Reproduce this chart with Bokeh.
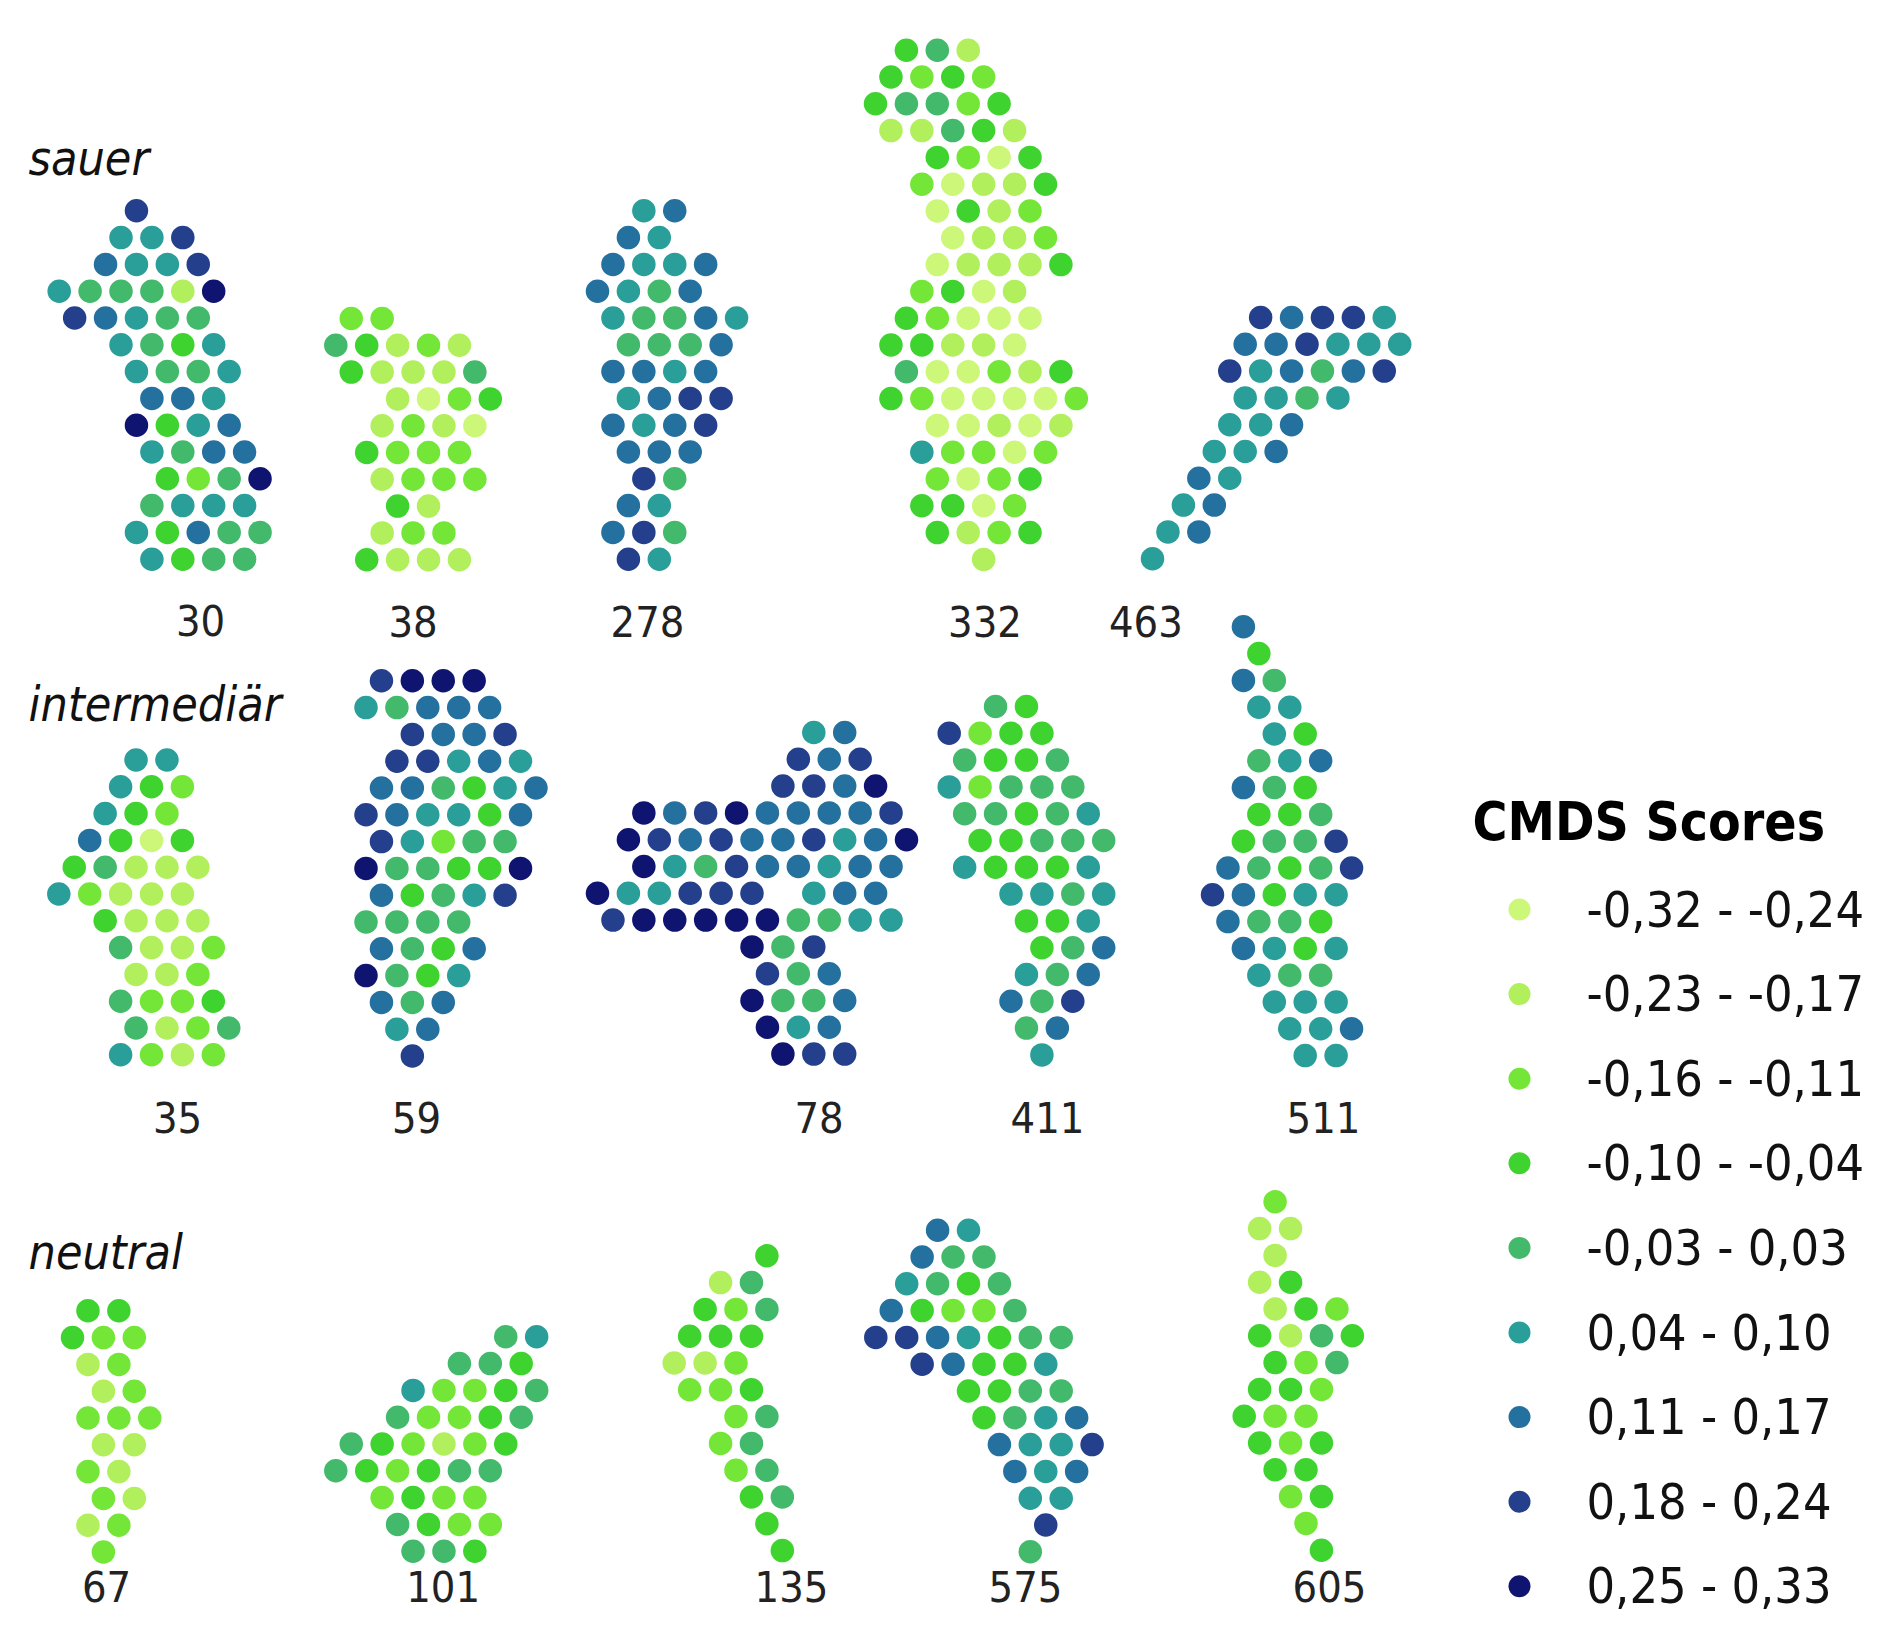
from bokeh.plotting import figure
from bokeh.models import Range1d, ColumnDataSource
from bokeh.embed import file_html
from bokeh.resources import INLINE
from bokeh.core.properties import value

# ---------------- data ----------------
# CMDS score classes (1 = lowest, 9 = highest)
CLASS_LABELS = ["-0,32 - -0,24", "-0,23 - -0,17", "-0,16 - -0,11", "-0,10 - -0,04",
                "-0,03 - 0,03", "0,04 - 0,10", "0,11 - 0,17", "0,18 - 0,24", "0,25 - 0,33"]
GROUPS = ["sauer", "intermediär", "neutral"]
SHAPE_IDS = ["30", "38", "278", "332", "463",
             "35", "59", "78", "411", "511",
             "67", "101", "135", "575", "605"]

# each string = one row of the hexagonal dot grid, each character = half a column step,
# digit = score class of that dot
S30 = ["     8", "    6 6 8", "   7 6 6 8", "6 5 5 5 2 9", " 8 7 6 5 5", "    6 5 4 6",
       "     6 5 5 6", "      7 7 6", "     9 4 6 7", "      6 5 7 7", "       4 3 5 9",
       "      5 6 6 6", "     6 4 7 5 5", "      6 4 5 5"]
S38 = [" 3 3", "5 4 2 3 2", " 4 2 2 2 5", "    2 1 3 4", "   2 3 2 1", "  4 3 3 3",
       "   2 3 3 3", "    4 2", "   2 3 3", "  4 2 2 2"]
S278 = ["   6 7", "  7 6", " 7 6 6 7", "7 6 5 7", " 6 5 5 7 6", "  5 5 5 7", " 7 7 6 7",
        "  6 7 8 8", " 7 6 7 8", "  7 7 7", "   8 5", "  7 6", " 7 8 5", "  8 6"]
S332 = ["  4 5 2", " 4 3 4 3", "4 5 5 3 4", " 2 2 5 4 2", "    4 3 1 4", "   3 1 2 2 4",
        "    1 4 2 3", "     1 2 2 3", "    1 2 2 2 4", "   3 4 1 2", "  4 3 1 1 1",
        " 4 4 2 2 1", "  5 1 1 3 2 4", " 4 3 1 1 1 1 3", "    1 1 2 1 2", "   6 3 3 1 3",
        "    3 1 3 4", "   4 4 1 3", "    4 2 3 4", "       2"]
S463 = ["       8 7 8 8 6", "      7 7 8 6 6 6", "     8 6 7 5 7 8", "      6 6 5 6",
        "     6 6 7", "    6 6 7", "   7 6", "  6 7", " 6 7", "6"]
S35 = ["     6 6", "    6 4 3", "   6 4 3", "  7 4 1 4", " 4 5 2 2 2", "6 3 2 2 2",
       "   4 2 2 2", "    5 2 2 3", "     2 2 3", "    5 3 3 4", "     5 2 3 5", "    6 3 2 3"]
S59 = [" 8 9 9 9", "6 5 7 7 7", "   8 7 7 8", "  8 8 6 7 6", " 7 7 5 4 6 7", "8 7 6 6 4 7",
       " 8 6 3 5 5", "9 5 5 4 4 9", " 7 4 5 6 8", "5 5 5 5", " 7 5 4 7", "9 5 4 6",
       " 7 5 7", "  6 7", "   8"]
S78 = ["              6 7", "             8 7 8", "            8 8 7 9",
       "   9 7 8 9 7 7 7 7 8", "  9 8 7 8 7 7 8 6 7 9", "   9 6 5 8 7 7 6 7 7",
       "9 6 6 8 8 8   6 7 7", " 8 9 9 9 9 9 5 5 6 6", "          9 5 8",
       "           8 5 7", "          9 5 5 7", "           9 6 7", "            9 8 8"]
S411 = ["   5 4", "8 3 4 4", " 5 4 4 5", "6 3 5 5 5", " 5 5 4 5 6", "  4 4 5 5 5",
        " 6 4 4 4 6", "    6 6 5 6", "     4 4 6", "      4 5 7", "     6 5 7",
        "    7 5 8", "     5 7", "      6"]
S511 = ["  7", "   4", "  7 5", "   6 6", "    6 4", "   5 6 7", "  7 5 4", "   4 4 5",
        "  4 5 5 8", " 7 5 4 5 8", "8 7 4 6 6", " 7 5 5 4", "  7 6 4 6", "   6 5 5",
        "    6 6 6", "     6 6 7", "      6 6"]
S67 = [" 4 4", "4 3 3", " 2 3", "  2 3", " 3 3 3", "  2 2", " 3 2", "  3 2", " 2 3", "  3"]
S101 = ["           5 6", "        5 5 4", "     6 3 3 4 5", "    5 3 3 4 5",
        " 5 4 3 2 3 4", "5 4 3 4 5 5", "   3 4 3 3", "    5 4 3 3", "     5 5 4"]
S135 = ["      4", "   2 5", "  4 3 5", " 4 4 4", "2 2 3", " 3 3 4", "    3 5", "   3 5",
        "    3 5", "     4 5", "      4", "       4"]
S575 = ["    7 6", "   7 5 5", "  6 5 4 5", " 7 4 3 3 5", "8 8 7 6 4 5 5", "   8 7 4 4 6",
        "      4 4 5 5", "       4 5 6 7", "        7 6 6 8", "         7 6 7",
        "          6 6", "           8", "          5"]
S605 = ["  3", " 2 2", "  2", " 2 4", "  2 4 3", " 4 2 5 4", "  4 3 5", " 4 4 3", "4 3 3",
        " 4 3 4", "  4 4", "   3 4", "    3", "     4"]

SHAPES = dict(zip(SHAPE_IDS, [S30, S38, S278, S332, S463, S35, S59, S78, S411, S511,
                              S67, S101, S135, S575, S605]))

# ---------------- layout / style ----------------
PALETTE = ["#cdf779", "#b1ef5c", "#74e638", "#3ed32f", "#42b96b",
           "#2a9e99", "#24709e", "#243f8b", "#0f1471"]
HX = 15.45     # half column step (px)
DY = 26.8      # row step (px)
DOT = 23.5

ANCHOR = {"30": (66.7, 218.3), "38": (343.3, 326.0), "278": (605.0, 218.3),
          "332": (883.0, 57.7), "463": (1160.0, 325.0),
          "35": (66.3, 767.5), "59": (373.5, 688.3), "78": (605.0, 740.0),
          "411": (956.7, 714.0), "511": (1220.0, 634.3),
          "67": (80.0, 1318.3), "101": (343.3, 1344.3), "135": (681.7, 1263.3),
          "575": (883.3, 1237.7), "605": (1251.7, 1209.3)}
LABEL_POS = {"30": (208, 628), "38": (420.5, 629), "278": (655, 629), "332": (992.5, 629),
             "463": (1153.4, 629), "35": (185, 1124.6), "59": (424, 1124.6),
             "78": (826.6, 1124.6), "411": (1055, 1124.6), "511": (1331, 1124.6),
             "67": (114, 1594), "101": (450.6, 1594), "135": (799, 1594),
             "575": (1033, 1594), "605": (1337, 1594)}
GROUP_POS = [(36, 165), (36, 711), (36, 1259)]
FONT = ("'Liberation Sans Narrow', 'DejaVu Sans Condensed', 'Roboto Condensed', "
        "'Arial Narrow', 'Liberation Sans', sans-serif")

W, H = 1868, 1620
p = figure(width=W, height=H, x_range=Range1d(8, 8 + W), y_range=Range1d(8 + H, 8),
           output_backend="svg", toolbar_location=None,
           x_axis_location=None, y_axis_location=None, min_border=0,
           outline_line_color=None, background_fill_color="white")
p.grid.visible = False

xs, ys, cs = [], [], []
for sid in SHAPE_IDS:
    x0, y0 = ANCHOR[sid]
    for r, row in enumerate(SHAPES[sid]):
        for j, ch in enumerate(row):
            if ch != " ":
                xs.append(x0 + j * HX)
                ys.append(y0 + r * DY)
                cs.append(PALETTE[int(ch) - 1])
p.scatter(x="x", y="y", color="c", size=DOT, line_color=None,
          source=ColumnDataSource(dict(x=xs, y=ys, c=cs)))

# shape numbers
p.text(x=[LABEL_POS[s][0] for s in SHAPE_IDS], y=[LABEL_POS[s][1] for s in SHAPE_IDS],
       text=SHAPE_IDS, text_font=value(FONT), text_font_size="43px",
       text_align="center", text_baseline="middle", text_color="#222222")

# group labels
p.text(x=[g[0] for g in GROUP_POS], y=[g[1] for g in GROUP_POS], text=GROUPS,
       text_font=value(FONT), text_font_style="italic", text_font_size="48px",
       text_align="left", text_baseline="middle", text_color="#111111")

# legend
LX, LY0, LSTEP = 1527, 917, 84.6
p.text(x=[1480], y=[829], text=["CMDS Scores"], text_font=value(FONT),
       text_font_style="bold", text_font_size="53px", text_align="left",
       text_baseline="middle", text_color="#000000")
p.scatter(x=[LX] * 9, y=[LY0 + i * LSTEP for i in range(9)], color=PALETTE,
          size=22, line_color=None)
p.text(x=[1594] * 9, y=[LY0 + i * LSTEP for i in range(9)], text=CLASS_LABELS,
       text_font=value(FONT), text_font_size="50px", text_align="left",
       text_baseline="middle", text_color="#111111")

open("out.html", "w").write(file_html(p, INLINE))
